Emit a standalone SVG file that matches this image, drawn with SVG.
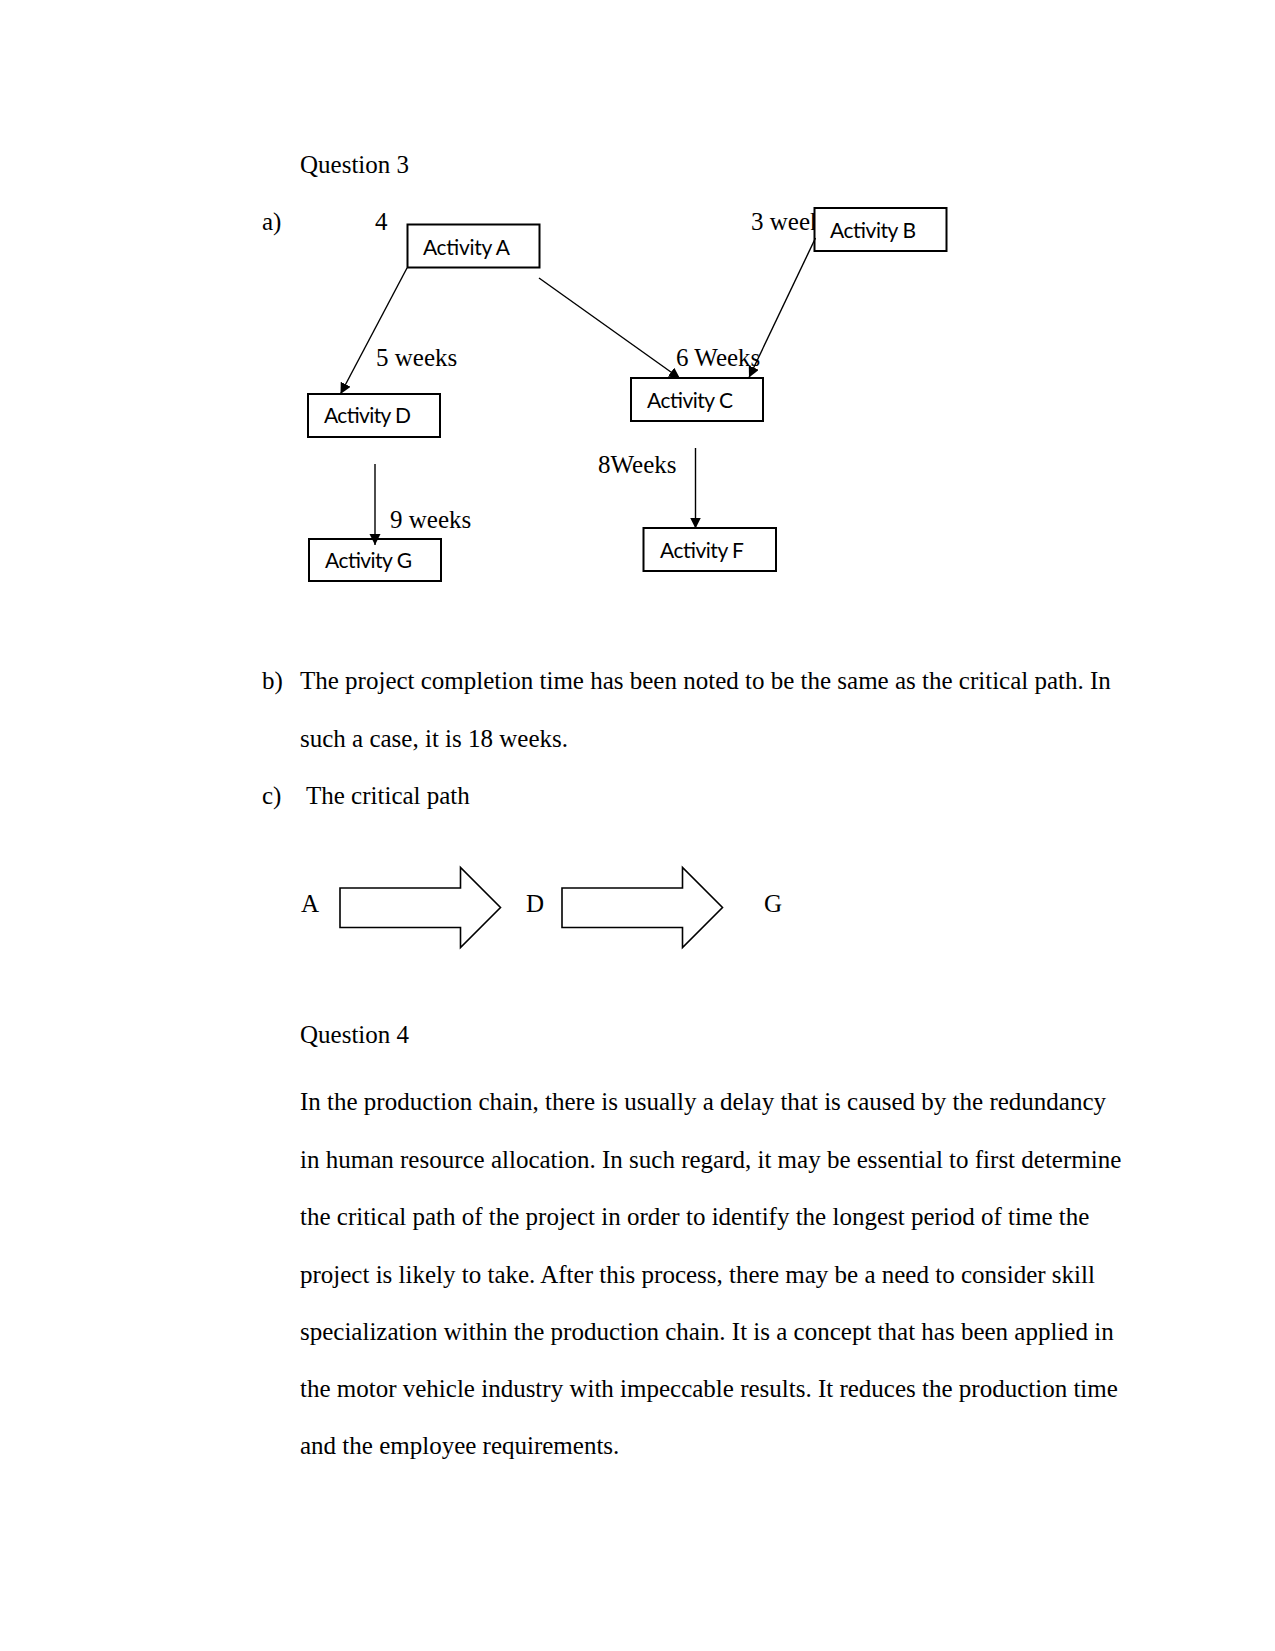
<svg xmlns="http://www.w3.org/2000/svg" width="1275" height="1651" viewBox="0 0 1275 1651">
<style>
.t{font-family:"Liberation Serif","Times New Roman",serif;font-size:25px;fill:#000}
.n{font-family:Lato,"Liberation Sans",sans-serif;font-size:21px;fill:#000}
.box{fill:#fff;stroke:#000;stroke-width:2}
.c{stroke:#000;stroke-width:1.4;fill:none}
.big{fill:#fff;stroke:#000;stroke-width:1.6}
</style>
<defs>
<marker id="ah" markerUnits="userSpaceOnUse" markerWidth="12" markerHeight="12" refX="11" refY="5.5" orient="auto">
<path d="M0,0 L11,5.5 L0,11 z" fill="#000"/>
</marker>
</defs>
<rect width="1275" height="1651" fill="#fff"/>

<g id="headings">
<text class="t" x="300" y="173">Question 3</text>
<text class="t" x="262" y="230">a)</text>
</g>

<g id="labels">
<text class="t" x="375" y="230">4</text>
<text class="t" x="751" y="230">3 weeks</text>
<text class="t" x="376" y="366">5 weeks</text>
<text class="t" x="676" y="366">6 Weeks</text>
<text class="t" x="598" y="473">8Weeks</text>
<text class="t" x="390" y="528">9 weeks</text>
</g>

<g id="nodeA"><rect class="box" x="407.5" y="224.5" width="132" height="43"/><text class="n" x="423" y="255" textLength="87">Activity A</text></g>
<g id="nodeB"><rect class="box" x="814.5" y="208" width="132" height="43"/><text class="n" x="830" y="238" textLength="86">Activity B</text></g>
<g id="nodeC"><rect class="box" x="631" y="378" width="132" height="43"/><text class="n" x="647" y="408" textLength="86">Activity C</text></g>
<g id="nodeD"><rect class="box" x="308" y="394" width="132" height="43"/><text class="n" x="324" y="423" textLength="87">Activity D</text></g>
<g id="nodeG"><rect class="box" x="309" y="539" width="132" height="42"/><text class="n" x="325" y="568" textLength="87">Activity G</text></g>
<g id="nodeF"><rect class="box" x="643.5" y="528" width="132.5" height="43"/><text class="n" x="660" y="558" textLength="84">Activity F</text></g>

<g id="connectors">
<line class="c" x1="407" y1="268" x2="340.5" y2="394" marker-end="url(#ah)"/>
<line class="c" x1="539" y1="278" x2="680" y2="378.5" marker-end="url(#ah)"/>
<line class="c" x1="815.5" y1="238" x2="749" y2="377.5" marker-end="url(#ah)"/>
<line class="c" x1="375" y1="464" x2="375" y2="545" marker-end="url(#ah)"/>
<line class="c" x1="695.5" y1="448" x2="695.5" y2="528.5" marker-end="url(#ah)"/>
</g>

<g id="partB">
<text class="t" x="262" y="689">b)</text>
<text class="t" x="300" y="689">The project completion time has been noted to be the same as the critical path. In</text>
<text class="t" x="300" y="747">such a case, it is 18 weeks.</text>
<text class="t" x="262" y="804">c)</text>
<text class="t" x="306" y="804">The critical path</text>
</g>

<g id="criticalPath">
<text class="t" x="301" y="912">A</text>
<polygon class="big" points="340,888 460.5,888 460.5,867.5 500.5,907.5 460.5,947.5 460.5,927.5 340,927.5"/>
<text class="t" x="526" y="912">D</text>
<polygon class="big" points="562,888 682.5,888 682.5,867.5 722.5,907.5 682.5,947.5 682.5,927.5 562,927.5"/>
<text class="t" x="764" y="912">G</text>
</g>

<g id="question4">
<text class="t" x="300" y="1043">Question 4</text>
<text class="t" x="300" y="1110">In the production chain, there is usually a delay that is caused by the redundancy</text>
<text class="t" x="300" y="1168">in human resource allocation. In such regard, it may be essential to first determine</text>
<text class="t" x="300" y="1225">the critical path of the project in order to identify the longest period of time the</text>
<text class="t" x="300" y="1283">project is likely to take. After this process, there may be a need to consider skill</text>
<text class="t" x="300" y="1340">specialization within the production chain. It is a concept that has been applied in</text>
<text class="t" x="300" y="1397">the motor vehicle industry with impeccable results. It reduces the production time</text>
<text class="t" x="300" y="1454">and the employee requirements.</text>
</g>
</svg>
